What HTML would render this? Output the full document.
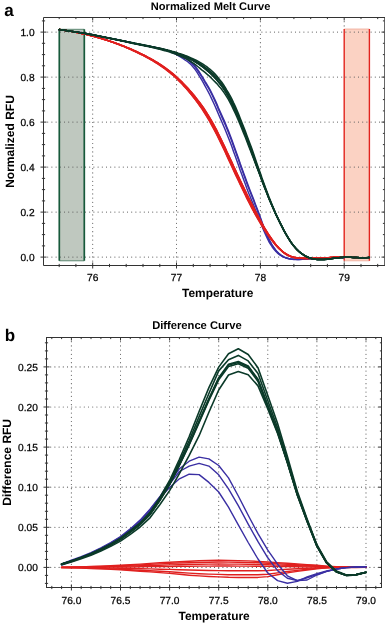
<!DOCTYPE html>
<html lang="en"><head><meta charset="utf-8"><title>Melt curves</title>
<style>html,body{margin:0;padding:0;background:#fff}body{width:387px;height:624px;overflow:hidden}svg{will-change:transform;transform:translateZ(0);text-rendering:geometricPrecision}</style></head>
<body>
<svg width="387" height="624" viewBox="0 0 387 624" style="display:block;font-family:'Liberation Sans',Arial,sans-serif">
<rect width="387" height="624" fill="#fff"/>
<g>
<rect x="59.3" y="29.3" width="25" height="231.5" fill="#bfc8bf" stroke="none"/>
<rect x="344.2" y="29" width="25.2" height="231.8" fill="#fbd2c3" stroke="none"/>
<path d="M92.7 17.5V265.5M176.5 17.5V265.5M260.4 17.5V265.5M344.2 17.5V28.4M344.2 261.6V265.5M43.5 257.1H384.5M43.5 212.1H384.5M43.5 167.1H384.5M43.5 122.1H384.5M43.5 77.1H384.5M43.5 32.1H384.5" stroke="#626262" stroke-width="1.2" stroke-linecap="round" stroke-dasharray="0.01 4.19" fill="none"/>
<path d="M59.3 29.3H84.3M59.3 260.8H84.3" stroke="#3d7358" stroke-width="0.8" fill="none"/>
<path d="M59.3 260.8V29.3M84.3 29.3V260.8" stroke="#175a3b" stroke-width="1.7" fill="none"/>
<path d="M344.2 29H369.4M344.2 260.8H369.4" stroke="#f0a898" stroke-width="0.8" fill="none"/>
<path d="M344.2 260.8V29M369.4 29V260.8" stroke="#e2251f" stroke-width="1.4" fill="none"/>
<polyline points="59.2,29.6 60.8,29.8 62.5,30.0 64.2,30.2 65.9,30.4 67.6,30.7 69.2,30.9 70.9,31.1 72.6,31.4 74.3,31.6 75.9,31.8 77.6,32.1 79.3,32.3 81.0,32.6 82.6,32.9 84.3,33.2 86.0,33.5 87.7,33.8 89.3,34.1 91.0,34.4 92.7,34.7 94.4,35.0 96.1,35.4 97.7,35.7 99.4,36.0 101.1,36.4 102.8,36.7 104.4,37.0 106.1,37.4 107.8,37.7 109.5,38.0 111.1,38.4 112.8,38.7 114.5,39.1 116.2,39.4 117.8,39.8 119.5,40.1 121.2,40.5 122.9,40.8 124.6,41.2 126.2,41.5 127.9,41.9 129.6,42.2 131.3,42.6 132.9,42.9 134.6,43.3 136.3,43.6 138.0,43.9 139.6,44.3 141.3,44.6 143.0,44.9 144.7,45.3 146.4,45.6 148.0,45.9 149.7,46.3 151.4,46.6 153.1,47.0 154.7,47.3 156.4,47.7 158.1,48.1 159.8,48.5 161.4,48.9 163.1,49.3 164.8,49.8 166.5,50.3 168.1,50.7 169.8,51.2 171.5,51.7 173.2,52.2 174.9,52.8 176.5,53.4 178.2,54.0 179.9,54.8 181.6,55.6 183.2,56.4 184.9,57.4 186.6,58.4 188.3,59.6 189.9,60.9 191.6,62.4 193.3,64.1 195.0,66.0 196.6,68.2 198.3,70.5 200.0,73.1 201.7,75.8 203.4,78.5 205.0,81.3 206.7,84.0 208.4,86.9 210.1,89.8 211.7,93.0 213.4,96.5 215.1,100.1 216.8,103.9 218.4,107.8 220.1,111.6 221.8,115.3 223.5,119.1 225.2,122.9 226.8,126.9 228.5,131.0 230.2,135.4 231.9,139.9 233.5,144.5 235.2,149.2 236.9,153.9 238.6,158.7 240.2,163.5 241.9,168.2 243.6,172.9 245.3,177.6 246.9,182.1 248.6,186.6 250.3,190.9 252.0,195.2 253.7,199.5 255.3,203.9 257.0,208.3 258.7,212.8 260.4,217.4 262.0,222.0 263.7,226.6 265.4,230.9 267.1,234.9 268.7,238.6 270.4,241.9 272.1,244.8 273.8,247.4 275.4,249.7 277.1,251.7 278.8,253.3 280.5,254.8 282.2,255.9 283.8,256.9 285.5,257.6 287.2,258.2 288.9,258.7 290.5,259.1 292.2,259.3 293.9,259.5 295.6,259.6 297.2,259.6 298.9,259.6 300.6,259.5 302.3,259.4 304.0,259.3 305.6,259.1 307.3,259.0 309.0,258.8 310.7,258.7 312.3,258.6 314.0,258.5 315.7,258.4 317.4,258.3 319.0,258.2 320.7,258.1 322.4,258.0 324.1,257.9 325.7,257.9 327.4,257.8 329.1,257.8 330.8,257.7 332.5,257.7 334.1,257.6 335.8,257.6 337.5,257.6 339.2,257.5 340.8,257.5 342.5,257.5 344.2,257.5" fill="none" stroke="#3a2fa3" stroke-width="1.45" stroke-linejoin="round" stroke-linecap="round" />
<polyline points="59.2,29.6 60.8,29.8 62.5,30.0 64.2,30.2 65.9,30.4 67.6,30.7 69.2,30.9 70.9,31.1 72.6,31.4 74.3,31.6 75.9,31.9 77.6,32.2 79.3,32.4 81.0,32.7 82.6,33.0 84.3,33.3 86.0,33.6 87.7,33.9 89.3,34.2 91.0,34.5 92.7,34.8 94.4,35.1 96.1,35.5 97.7,35.8 99.4,36.1 101.1,36.5 102.8,36.8 104.4,37.1 106.1,37.5 107.8,37.8 109.5,38.1 111.1,38.5 112.8,38.8 114.5,39.2 116.2,39.5 117.8,39.9 119.5,40.2 121.2,40.6 122.9,40.9 124.6,41.3 126.2,41.6 127.9,42.0 129.6,42.3 131.3,42.7 132.9,43.0 134.6,43.4 136.3,43.7 138.0,44.0 139.6,44.4 141.3,44.7 143.0,45.0 144.7,45.4 146.4,45.7 148.0,46.0 149.7,46.4 151.4,46.7 153.1,47.1 154.7,47.4 156.4,47.8 158.1,48.2 159.8,48.6 161.4,49.0 163.1,49.4 164.8,49.9 166.5,50.3 168.1,50.8 169.8,51.4 171.5,51.9 173.2,52.5 174.9,53.1 176.5,53.7 178.2,54.4 179.9,55.1 181.6,55.9 183.2,56.8 184.9,57.8 186.6,58.9 188.3,60.2 189.9,61.6 191.6,63.1 193.3,64.9 195.0,66.9 196.6,69.0 198.3,71.5 200.0,74.0 201.7,76.7 203.4,79.5 205.0,82.3 206.7,85.1 208.4,87.9 210.1,91.0 211.7,94.2 213.4,97.7 215.1,101.4 216.8,105.3 218.4,109.2 220.1,113.0 221.8,116.9 223.5,120.7 225.2,124.6 226.8,128.6 228.5,132.7 230.2,137.0 231.9,141.5 233.5,146.0 235.2,150.7 236.9,155.4 238.6,160.1 240.2,164.9 241.9,169.6 243.6,174.3 245.3,178.9 246.9,183.5 248.6,187.9 250.3,192.2 252.0,196.5 253.7,200.7 255.3,205.0 257.0,209.4 258.7,213.8 260.4,218.4 262.0,223.0 263.7,227.5 265.4,231.7 267.1,235.7 268.7,239.3 270.4,242.5 272.1,245.3 273.8,247.8 275.4,250.0 277.1,251.9 278.8,253.5 280.5,254.8 282.2,256.0 283.8,256.9 285.5,257.6 287.2,258.2 288.9,258.6 290.5,259.0 292.2,259.2 293.9,259.3 295.6,259.4 297.2,259.5 298.9,259.5 300.6,259.4 302.3,259.3 304.0,259.2 305.6,259.1 307.3,259.0 309.0,258.8 310.7,258.7 312.3,258.6 314.0,258.5 315.7,258.4 317.4,258.3 319.0,258.2 320.7,258.1 322.4,258.0 324.1,257.9 325.7,257.9 327.4,257.8 329.1,257.8 330.8,257.7 332.5,257.7 334.1,257.6 335.8,257.6 337.5,257.6 339.2,257.5 340.8,257.5 342.5,257.5 344.2,257.5" fill="none" stroke="#3a2fa3" stroke-width="1.45" stroke-linejoin="round" stroke-linecap="round" />
<polyline points="59.2,29.6 60.8,29.8 62.5,30.0 64.2,30.2 65.9,30.4 67.6,30.7 69.2,30.9 70.9,31.1 72.6,31.4 74.3,31.6 75.9,31.9 77.6,32.3 79.3,32.6 81.0,32.9 82.6,33.2 84.3,33.5 86.0,33.8 87.7,34.1 89.3,34.4 91.0,34.7 92.7,35.0 94.4,35.3 96.1,35.6 97.7,36.0 99.4,36.3 101.1,36.6 102.8,37.0 104.4,37.3 106.1,37.6 107.8,38.0 109.5,38.3 111.1,38.7 112.8,39.0 114.5,39.4 116.2,39.7 117.8,40.1 119.5,40.4 121.2,40.8 122.9,41.1 124.6,41.5 126.2,41.8 127.9,42.2 129.6,42.5 131.3,42.8 132.9,43.2 134.6,43.5 136.3,43.9 138.0,44.2 139.6,44.6 141.3,44.9 143.0,45.2 144.7,45.6 146.4,45.9 148.0,46.2 149.7,46.6 151.4,46.9 153.1,47.2 154.7,47.6 156.4,48.0 158.1,48.4 159.8,48.7 161.4,49.1 163.1,49.6 164.8,50.0 166.5,50.5 168.1,51.0 169.8,51.6 171.5,52.3 173.2,53.1 174.9,53.9 176.5,54.7 178.2,55.6 179.9,56.6 181.6,57.6 183.2,58.7 184.9,59.9 186.6,61.0 188.3,62.2 189.9,63.6 191.6,65.3 193.3,67.2 195.0,69.3 196.6,71.7 198.3,74.4 200.0,77.1 201.7,79.9 203.4,82.8 205.0,85.8 206.7,89.0 208.4,92.2 210.1,95.5 211.7,98.9 213.4,102.5 215.1,106.2 216.8,110.1 218.4,114.0 220.1,117.9 221.8,121.8 223.5,125.7 225.2,129.7 226.8,133.7 228.5,138.0 230.2,142.3 231.9,146.8 233.5,151.4 235.2,156.1 236.9,160.8 238.6,165.5 240.2,170.2 241.9,174.8 243.6,179.5 245.3,184.0 246.9,188.5 248.6,192.9 250.3,197.1 252.0,201.3 253.7,205.3 255.3,209.4 257.0,213.6 258.7,217.8 260.4,222.0 262.0,226.3 263.7,230.4 265.4,234.3 267.1,238.0 268.7,241.3 270.4,244.2 272.1,246.7 273.8,249.0 275.4,250.9 277.1,252.6 278.8,254.1 280.5,255.4 282.2,256.3 283.8,257.1 285.5,257.8 287.2,258.3 288.9,258.6 290.5,258.9 292.2,259.1 293.9,259.2 295.6,259.3 297.2,259.3 298.9,259.3 300.6,259.3 302.3,259.2 304.0,259.1 305.6,259.0 307.3,258.9 309.0,258.8 310.7,258.6 312.3,258.5 314.0,258.4 315.7,258.3 317.4,258.3 319.0,258.2 320.7,258.1 322.4,258.0 324.1,257.9 325.7,257.9 327.4,257.8 329.1,257.8 330.8,257.7 332.5,257.7 334.1,257.6 335.8,257.6 337.5,257.6 339.2,257.5 340.8,257.5 342.5,257.5 344.2,257.5" fill="none" stroke="#3a2fa3" stroke-width="1.45" stroke-linejoin="round" stroke-linecap="round" />
<polyline points="59.2,29.5 60.8,29.7 62.5,30.0 64.2,30.2 65.9,30.5 67.6,30.8 69.2,31.0 70.9,31.3 72.6,31.6 74.3,31.9 75.9,32.3 77.6,32.6 79.3,32.9 81.0,33.3 82.6,33.7 84.3,34.0 86.0,34.4 87.7,34.8 89.3,35.2 91.0,35.6 92.7,36.0 94.4,36.5 96.1,36.9 97.7,37.4 99.4,37.9 101.1,38.3 102.8,38.8 104.4,39.3 106.1,39.8 107.8,40.4 109.5,40.9 111.1,41.5 112.8,42.0 114.5,42.6 116.2,43.2 117.8,43.8 119.5,44.4 121.2,45.1 122.9,45.7 124.6,46.4 126.2,47.1 127.9,47.8 129.6,48.5 131.3,49.2 132.9,49.9 134.6,50.7 136.3,51.4 138.0,52.2 139.6,53.0 141.3,53.8 143.0,54.6 144.7,55.4 146.4,56.3 148.0,57.2 149.7,58.1 151.4,59.0 153.1,59.9 154.7,60.9 156.4,61.9 158.1,62.9 159.8,64.0 161.4,65.1 163.1,66.2 164.8,67.4 166.5,68.6 168.1,69.8 169.8,71.1 171.5,72.5 173.2,73.9 174.9,75.3 176.5,76.8 178.2,78.4 179.9,79.9 181.6,81.5 183.2,83.2 184.9,84.9 186.6,86.7 188.3,88.5 189.9,90.4 191.6,92.3 193.3,94.3 195.0,96.3 196.6,98.4 198.3,100.6 200.0,102.8 201.7,105.1 203.4,107.5 205.0,110.0 206.7,112.6 208.4,115.3 210.1,118.1 211.7,120.9 213.4,123.9 215.1,127.0 216.8,130.2 218.4,133.6 220.1,137.0 221.8,140.5 223.5,144.0 225.2,147.6 226.8,151.2 228.5,154.8 230.2,158.5 231.9,162.1 233.5,165.8 235.2,169.4 236.9,173.0 238.6,176.6 240.2,180.1 241.9,183.6 243.6,187.1 245.3,190.6 246.9,194.0 248.6,197.4 250.3,200.8 252.0,204.1 253.7,207.5 255.3,210.8 257.0,214.0 258.7,217.2 260.4,220.3 262.0,223.3 263.7,226.3 265.4,229.1 267.1,231.9 268.7,234.5 270.4,237.0 272.1,239.4 273.8,241.7 275.4,243.9 277.1,245.9 278.8,247.7 280.5,249.4 282.2,250.9 283.8,252.3 285.5,253.4 287.2,254.5 288.9,255.3 290.5,256.1 292.2,256.6 293.9,257.1 295.6,257.5 297.2,257.7 298.9,257.9 300.6,258.1 302.3,258.2 304.0,258.2 305.6,258.3 307.3,258.3 309.0,258.3 310.7,258.3 312.3,258.3 314.0,258.2 315.7,258.2 317.4,258.1 319.0,258.1 320.7,258.0 322.4,257.9 324.1,257.8 325.7,257.7 327.4,257.6 329.1,257.6 330.8,257.5 332.5,257.4 334.1,257.3 335.8,257.3 337.5,257.2 339.2,257.2 340.8,257.2 342.5,257.1 344.2,257.2 345.9,257.2 347.5,257.2 349.2,257.3 350.9,257.3 352.6,257.4 354.2,257.5 355.9,257.5 357.6,257.6 359.3,257.6 361.0,257.7 362.6,257.7 364.3,257.7 366.0,257.6 367.7,257.6 369.3,257.5" fill="none" stroke="#e0201f" stroke-width="1.4" stroke-linejoin="round" stroke-linecap="round" />
<polyline points="59.2,29.5 60.8,29.7 62.5,30.0 64.2,30.2 65.9,30.5 67.6,30.8 69.2,31.0 70.9,31.3 72.6,31.6 74.3,31.9 75.9,32.3 77.6,32.6 79.3,32.9 81.0,33.3 82.6,33.7 84.3,34.0 86.0,34.4 87.7,34.8 89.3,35.2 91.0,35.6 92.7,36.1 94.4,36.5 96.1,36.9 97.7,37.4 99.4,37.9 101.1,38.4 102.8,38.8 104.4,39.4 106.1,39.9 107.8,40.4 109.5,41.0 111.1,41.5 112.8,42.1 114.5,42.7 116.2,43.3 117.8,43.9 119.5,44.5 121.2,45.1 122.9,45.8 124.6,46.4 126.2,47.1 127.9,47.8 129.6,48.5 131.3,49.2 132.9,50.0 134.6,50.7 136.3,51.5 138.0,52.3 139.6,53.1 141.3,53.9 143.0,54.7 144.7,55.5 146.4,56.4 148.0,57.3 149.7,58.2 151.4,59.1 153.1,60.0 154.7,61.0 156.4,62.0 158.1,63.1 159.8,64.1 161.4,65.2 163.1,66.4 164.8,67.5 166.5,68.8 168.1,70.0 169.8,71.3 171.5,72.7 173.2,74.1 174.9,75.5 176.5,77.0 178.2,78.6 179.9,80.1 181.6,81.8 183.2,83.5 184.9,85.2 186.6,87.0 188.3,88.8 189.9,90.7 191.6,92.6 193.3,94.6 195.0,96.7 196.6,98.8 198.3,100.9 200.0,103.2 201.7,105.5 203.4,107.9 205.0,110.4 206.7,113.0 208.4,115.7 210.1,118.5 211.7,121.4 213.4,124.4 215.1,127.5 216.8,130.7 218.4,134.0 220.1,137.4 221.8,140.9 223.5,144.5 225.2,148.0 226.8,151.7 228.5,155.3 230.2,158.9 231.9,162.6 233.5,166.2 235.2,169.8 236.9,173.4 238.6,177.0 240.2,180.5 241.9,184.1 243.6,187.6 245.3,191.0 246.9,194.4 248.6,197.8 250.3,201.2 252.0,204.5 253.7,207.8 255.3,211.1 257.0,214.3 258.7,217.5 260.4,220.6 262.0,223.6 263.7,226.5 265.4,229.3 267.1,232.0 268.7,234.7 270.4,237.2 272.1,239.6 273.8,241.8 275.4,244.0 277.1,246.0 278.8,247.8 280.5,249.5 282.2,251.0 283.8,252.3 285.5,253.5 287.2,254.5 288.9,255.4 290.5,256.1 292.2,256.7 293.9,257.2 295.6,257.5 297.2,257.8 298.9,258.0 300.6,258.1 302.3,258.2 304.0,258.3 305.6,258.3 307.3,258.3 309.0,258.3 310.7,258.3 312.3,258.3 314.0,258.3 315.7,258.2 317.4,258.1 319.0,258.1 320.7,258.0 322.4,257.9 324.1,257.8 325.7,257.7 327.4,257.6 329.1,257.6 330.8,257.5 332.5,257.4 334.1,257.3 335.8,257.3 337.5,257.2 339.2,257.2 340.8,257.2 342.5,257.1 344.2,257.2 345.9,257.2 347.5,257.2 349.2,257.3 350.9,257.3 352.6,257.4 354.2,257.5 355.9,257.5 357.6,257.6 359.3,257.6 361.0,257.7 362.6,257.7 364.3,257.7 366.0,257.6 367.7,257.6 369.3,257.5" fill="none" stroke="#e0201f" stroke-width="1.4" stroke-linejoin="round" stroke-linecap="round" />
<polyline points="59.2,29.5 60.8,29.7 62.5,30.0 64.2,30.2 65.9,30.5 67.6,30.8 69.2,31.0 70.9,31.3 72.6,31.6 74.3,31.9 75.9,32.3 77.6,32.6 79.3,32.9 81.0,33.3 82.6,33.7 84.3,34.0 86.0,34.4 87.7,34.8 89.3,35.2 91.0,35.6 92.7,36.1 94.4,36.5 96.1,37.0 97.7,37.4 99.4,37.9 101.1,38.4 102.8,38.9 104.4,39.4 106.1,39.9 107.8,40.4 109.5,41.0 111.1,41.6 112.8,42.1 114.5,42.7 116.2,43.3 117.8,43.9 119.5,44.6 121.2,45.2 122.9,45.8 124.6,46.5 126.2,47.2 127.9,47.9 129.6,48.6 131.3,49.3 132.9,50.1 134.6,50.8 136.3,51.6 138.0,52.4 139.6,53.2 141.3,54.0 143.0,54.8 144.7,55.7 146.4,56.5 148.0,57.4 149.7,58.3 151.4,59.2 153.1,60.2 154.7,61.2 156.4,62.2 158.1,63.2 159.8,64.3 161.4,65.4 163.1,66.5 164.8,67.7 166.5,69.0 168.1,70.2 169.8,71.5 171.5,72.9 173.2,74.3 174.9,75.7 176.5,77.3 178.2,78.8 179.9,80.4 181.6,82.0 183.2,83.7 184.9,85.5 186.6,87.3 188.3,89.1 189.9,91.0 191.6,93.0 193.3,95.0 195.0,97.0 196.6,99.2 198.3,101.4 200.0,103.6 201.7,106.0 203.4,108.4 205.0,110.9 206.7,113.5 208.4,116.2 210.1,119.0 211.7,121.9 213.4,124.9 215.1,128.1 216.8,131.3 218.4,134.6 220.1,138.0 221.8,141.5 223.5,145.0 225.2,148.6 226.8,152.2 228.5,155.8 230.2,159.5 231.9,163.1 233.5,166.8 235.2,170.4 236.9,174.0 238.6,177.5 240.2,181.1 241.9,184.6 243.6,188.1 245.3,191.5 246.9,194.9 248.6,198.3 250.3,201.7 252.0,205.0 253.7,208.3 255.3,211.5 257.0,214.7 258.7,217.9 260.4,220.9 262.0,223.9 263.7,226.8 265.4,229.6 267.1,232.3 268.7,234.9 270.4,237.4 272.1,239.7 273.8,242.0 275.4,244.1 277.1,246.1 278.8,247.9 280.5,249.5 282.2,251.1 283.8,252.4 285.5,253.6 287.2,254.6 288.9,255.5 290.5,256.2 292.2,256.8 293.9,257.2 295.6,257.6 297.2,257.9 298.9,258.0 300.6,258.2 302.3,258.3 304.0,258.3 305.6,258.4 307.3,258.4 309.0,258.4 310.7,258.4 312.3,258.3 314.0,258.3 315.7,258.2 317.4,258.2 319.0,258.1 320.7,258.0 322.4,257.9 324.1,257.8 325.7,257.7 327.4,257.6 329.1,257.6 330.8,257.5 332.5,257.4 334.1,257.3 335.8,257.3 337.5,257.2 339.2,257.2 340.8,257.2 342.5,257.1 344.2,257.2 345.9,257.2 347.5,257.2 349.2,257.3 350.9,257.3 352.6,257.4 354.2,257.5 355.9,257.5 357.6,257.6 359.3,257.6 361.0,257.7 362.6,257.7 364.3,257.7 366.0,257.6 367.7,257.6 369.3,257.5" fill="none" stroke="#e0201f" stroke-width="1.4" stroke-linejoin="round" stroke-linecap="round" />
<polyline points="59.2,29.5 60.8,29.7 62.5,30.0 64.2,30.2 65.9,30.5 67.6,30.8 69.2,31.0 70.9,31.3 72.6,31.6 74.3,31.9 75.9,32.3 77.6,32.6 79.3,32.9 81.0,33.3 82.6,33.7 84.3,34.0 86.0,34.4 87.7,34.8 89.3,35.2 91.0,35.6 92.7,36.1 94.4,36.5 96.1,37.0 97.7,37.4 99.4,37.9 101.1,38.4 102.8,38.9 104.4,39.4 106.1,39.9 107.8,40.5 109.5,41.0 111.1,41.6 112.8,42.2 114.5,42.8 116.2,43.4 117.8,44.0 119.5,44.6 121.2,45.3 122.9,45.9 124.6,46.6 126.2,47.3 127.9,48.0 129.6,48.7 131.3,49.4 132.9,50.2 134.6,50.9 136.3,51.7 138.0,52.5 139.6,53.3 141.3,54.1 143.0,54.9 144.7,55.8 146.4,56.6 148.0,57.5 149.7,58.4 151.4,59.4 153.1,60.3 154.7,61.3 156.4,62.3 158.1,63.4 159.8,64.5 161.4,65.6 163.1,66.7 164.8,67.9 166.5,69.2 168.1,70.4 169.8,71.7 171.5,73.1 173.2,74.5 174.9,76.0 176.5,77.5 178.2,79.0 179.9,80.7 181.6,82.3 183.2,84.0 184.9,85.8 186.6,87.6 188.3,89.5 189.9,91.4 191.6,93.3 193.3,95.4 195.0,97.4 196.6,99.6 198.3,101.8 200.0,104.0 201.7,106.4 203.4,108.8 205.0,111.4 206.7,114.0 208.4,116.7 210.1,119.5 211.7,122.5 213.4,125.5 215.1,128.6 216.8,131.8 218.4,135.2 220.1,138.6 221.8,142.0 223.5,145.6 225.2,149.2 226.8,152.8 228.5,156.4 230.2,160.1 231.9,163.7 233.5,167.3 235.2,170.9 236.9,174.5 238.6,178.1 240.2,181.6 241.9,185.1 243.6,188.6 245.3,192.0 246.9,195.5 248.6,198.8 250.3,202.2 252.0,205.5 253.7,208.7 255.3,212.0 257.0,215.1 258.7,218.2 260.4,221.2 262.0,224.2 263.7,227.0 265.4,229.8 267.1,232.5 268.7,235.1 270.4,237.5 272.1,239.9 273.8,242.1 275.4,244.2 277.1,246.2 278.8,248.0 280.5,249.6 282.2,251.2 283.8,252.5 285.5,253.7 287.2,254.7 288.9,255.6 290.5,256.3 292.2,256.8 293.9,257.3 295.6,257.6 297.2,257.9 298.9,258.1 300.6,258.2 302.3,258.3 304.0,258.4 305.6,258.4 307.3,258.4 309.0,258.4 310.7,258.4 312.3,258.4 314.0,258.3 315.7,258.2 317.4,258.2 319.0,258.1 320.7,258.0 322.4,257.9 324.1,257.8 325.7,257.7 327.4,257.6 329.1,257.6 330.8,257.5 332.5,257.4 334.1,257.3 335.8,257.3 337.5,257.2 339.2,257.2 340.8,257.2 342.5,257.1 344.2,257.2 345.9,257.2 347.5,257.2 349.2,257.3 350.9,257.3 352.6,257.4 354.2,257.5 355.9,257.5 357.6,257.6 359.3,257.6 361.0,257.7 362.6,257.7 364.3,257.7 366.0,257.6 367.7,257.6 369.3,257.5" fill="none" stroke="#e0201f" stroke-width="1.4" stroke-linejoin="round" stroke-linecap="round" />
<polyline points="59.2,29.5 60.8,29.7 62.5,30.0 64.2,30.2 65.9,30.5 67.6,30.8 69.2,31.0 70.9,31.3 72.6,31.6 74.3,31.9 75.9,32.3 77.6,32.6 79.3,32.9 81.0,33.3 82.6,33.7 84.3,34.0 86.0,34.4 87.7,34.8 89.3,35.2 91.0,35.7 92.7,36.1 94.4,36.5 96.1,37.0 97.7,37.5 99.4,38.0 101.1,38.4 102.8,39.0 104.4,39.5 106.1,40.0 107.8,40.6 109.5,41.1 111.1,41.7 112.8,42.3 114.5,42.9 116.2,43.5 117.8,44.1 119.5,44.7 121.2,45.4 122.9,46.1 124.6,46.7 126.2,47.4 127.9,48.1 129.6,48.9 131.3,49.6 132.9,50.3 134.6,51.1 136.3,51.9 138.0,52.7 139.6,53.5 141.3,54.3 143.0,55.2 144.7,56.0 146.4,56.9 148.0,57.8 149.7,58.7 151.4,59.7 153.1,60.6 154.7,61.6 156.4,62.7 158.1,63.7 159.8,64.8 161.4,65.9 163.1,67.1 164.8,68.3 166.5,69.5 168.1,70.8 169.8,72.2 171.5,73.5 173.2,75.0 174.9,76.4 176.5,77.9 178.2,79.5 179.9,81.2 181.6,82.9 183.2,84.6 184.9,86.4 186.6,88.3 188.3,90.2 189.9,92.1 191.6,94.1 193.3,96.2 195.0,98.3 196.6,100.4 198.3,102.7 200.0,105.0 201.7,107.4 203.4,109.9 205.0,112.4 206.7,115.1 208.4,117.8 210.1,120.7 211.7,123.7 213.4,126.7 215.1,129.9 216.8,133.1 218.4,136.4 220.1,139.9 221.8,143.3 223.5,146.9 225.2,150.5 226.8,154.1 228.5,157.7 230.2,161.4 231.9,165.0 233.5,168.6 235.2,172.2 236.9,175.8 238.6,179.4 240.2,182.9 241.9,186.4 243.6,189.9 245.3,193.3 246.9,196.7 248.6,200.1 250.3,203.4 252.0,206.7 253.7,209.9 255.3,213.1 257.0,216.2 258.7,219.2 260.4,222.1 262.0,225.0 263.7,227.8 265.4,230.5 267.1,233.1 268.7,235.6 270.4,238.0 272.1,240.3 273.8,242.4 275.4,244.5 277.1,246.4 278.8,248.2 280.5,249.8 282.2,251.3 283.8,252.7 285.5,253.9 287.2,254.9 288.9,255.7 290.5,256.4 292.2,257.0 293.9,257.4 295.6,257.8 297.2,258.0 298.9,258.2 300.6,258.3 302.3,258.4 304.0,258.4 305.6,258.5 307.3,258.5 309.0,258.5 310.7,258.4 312.3,258.4 314.0,258.3 315.7,258.3 317.4,258.2 319.0,258.1 320.7,258.0 322.4,257.9 324.1,257.8 325.7,257.7 327.4,257.6 329.1,257.6 330.8,257.5 332.5,257.4 334.1,257.3 335.8,257.3 337.5,257.2 339.2,257.2 340.8,257.2 342.5,257.1 344.2,257.2 345.9,257.2 347.5,257.2 349.2,257.3 350.9,257.3 352.6,257.4 354.2,257.5 355.9,257.5 357.6,257.6 359.3,257.6 361.0,257.7 362.6,257.7 364.3,257.7 366.0,257.6 367.7,257.6 369.3,257.5" fill="none" stroke="#e0201f" stroke-width="1.4" stroke-linejoin="round" stroke-linecap="round" />
<polyline points="59.2,29.5 60.8,29.7 62.5,30.0 64.2,30.2 65.9,30.5 67.6,30.8 69.2,31.0 70.9,31.3 72.6,31.6 74.3,31.9 75.9,32.3 77.6,32.6 79.3,32.9 81.0,33.3 82.6,33.7 84.3,34.0 86.0,34.4 87.7,34.8 89.3,35.2 91.0,35.7 92.7,36.1 94.4,36.6 96.1,37.0 97.7,37.5 99.4,38.0 101.1,38.5 102.8,39.0 104.4,39.5 106.1,40.1 107.8,40.6 109.5,41.2 111.1,41.8 112.8,42.3 114.5,42.9 116.2,43.6 117.8,44.2 119.5,44.8 121.2,45.5 122.9,46.2 124.6,46.8 126.2,47.5 127.9,48.3 129.6,49.0 131.3,49.7 132.9,50.5 134.6,51.3 136.3,52.1 138.0,52.9 139.6,53.7 141.3,54.5 143.0,55.4 144.7,56.2 146.4,57.1 148.0,58.0 149.7,59.0 151.4,59.9 153.1,60.9 154.7,61.9 156.4,62.9 158.1,64.0 159.8,65.1 161.4,66.2 163.1,67.4 164.8,68.6 166.5,69.9 168.1,71.2 169.8,72.5 171.5,73.9 173.2,75.3 174.9,76.8 176.5,78.3 178.2,79.9 179.9,81.6 181.6,83.3 183.2,85.1 184.9,86.9 186.6,88.8 188.3,90.7 189.9,92.7 191.6,94.7 193.3,96.8 195.0,99.0 196.6,101.2 198.3,103.4 200.0,105.8 201.7,108.2 203.4,110.7 205.0,113.3 206.7,116.0 208.4,118.8 210.1,121.7 211.7,124.7 213.4,127.8 215.1,130.9 216.8,134.2 218.4,137.5 220.1,140.9 221.8,144.4 223.5,148.0 225.2,151.6 226.8,155.2 228.5,158.8 230.2,162.5 231.9,166.1 233.5,169.8 235.2,173.4 236.9,177.0 238.6,180.5 240.2,184.0 241.9,187.5 243.6,191.0 245.3,194.5 246.9,197.9 248.6,201.2 250.3,204.6 252.0,207.9 253.7,211.0 255.3,214.1 257.0,217.1 258.7,220.0 260.4,222.9 262.0,225.7 263.7,228.4 265.4,231.1 267.1,233.6 268.7,236.0 270.4,238.4 272.1,240.6 273.8,242.7 275.4,244.7 277.1,246.6 278.8,248.4 280.5,250.0 282.2,251.5 283.8,252.8 285.5,254.0 287.2,255.0 288.9,255.8 290.5,256.5 292.2,257.1 293.9,257.5 295.6,257.8 297.2,258.1 298.9,258.3 300.6,258.4 302.3,258.4 304.0,258.5 305.6,258.5 307.3,258.5 309.0,258.5 310.7,258.4 312.3,258.4 314.0,258.3 315.7,258.3 317.4,258.2 319.0,258.1 320.7,258.0 322.4,257.9 324.1,257.8 325.7,257.7 327.4,257.6 329.1,257.6 330.8,257.5 332.5,257.4 334.1,257.3 335.8,257.3 337.5,257.2 339.2,257.2 340.8,257.2 342.5,257.1 344.2,257.2 345.9,257.2 347.5,257.2 349.2,257.3 350.9,257.3 352.6,257.4 354.2,257.5 355.9,257.5 357.6,257.6 359.3,257.6 361.0,257.7 362.6,257.7 364.3,257.7 366.0,257.6 367.7,257.6 369.3,257.5" fill="none" stroke="#e0201f" stroke-width="1.4" stroke-linejoin="round" stroke-linecap="round" />
<polyline points="59.2,29.5 60.8,29.7 62.5,30.0 64.2,30.2 65.9,30.5 67.6,30.8 69.2,31.0 70.9,31.3 72.6,31.6 74.3,31.9 75.9,32.3 77.6,32.6 79.3,32.9 81.0,33.3 82.6,33.7 84.3,34.0 86.0,34.4 87.7,34.8 89.3,35.3 91.0,35.7 92.7,36.1 94.4,36.6 96.1,37.0 97.7,37.5 99.4,38.0 101.1,38.5 102.8,39.0 104.4,39.6 106.1,40.1 107.8,40.7 109.5,41.2 111.1,41.8 112.8,42.4 114.5,43.0 116.2,43.6 117.8,44.3 119.5,44.9 121.2,45.6 122.9,46.2 124.6,46.9 126.2,47.6 127.9,48.3 129.6,49.1 131.3,49.8 132.9,50.6 134.6,51.4 136.3,52.2 138.0,53.0 139.6,53.8 141.3,54.6 143.0,55.5 144.7,56.4 146.4,57.3 148.0,58.2 149.7,59.1 151.4,60.1 153.1,61.0 154.7,62.1 156.4,63.1 158.1,64.2 159.8,65.3 161.4,66.4 163.1,67.6 164.8,68.8 166.5,70.1 168.1,71.4 169.8,72.7 171.5,74.1 173.2,75.5 174.9,77.0 176.5,78.6 178.2,80.2 179.9,81.9 181.6,83.6 183.2,85.4 184.9,87.2 186.6,89.1 188.3,91.1 189.9,93.1 191.6,95.1 193.3,97.2 195.0,99.4 196.6,101.6 198.3,103.9 200.0,106.3 201.7,108.7 203.4,111.3 205.0,113.9 206.7,116.6 208.4,119.4 210.1,122.3 211.7,125.3 213.4,128.4 215.1,131.6 216.8,134.9 218.4,138.2 220.1,141.6 221.8,145.1 223.5,148.7 225.2,152.3 226.8,155.9 228.5,159.6 230.2,163.2 231.9,166.9 233.5,170.5 235.2,174.1 236.9,177.7 238.6,181.3 240.2,184.8 241.9,188.3 243.6,191.8 245.3,195.2 246.9,198.6 248.6,202.0 250.3,205.3 252.0,208.6 253.7,211.7 255.3,214.7 257.0,217.7 258.7,220.6 260.4,223.4 262.0,226.2 263.7,228.9 265.4,231.4 267.1,233.9 268.7,236.3 270.4,238.6 272.1,240.8 273.8,242.9 275.4,244.9 277.1,246.7 278.8,248.5 280.5,250.1 282.2,251.6 283.8,252.9 285.5,254.1 287.2,255.1 288.9,255.9 290.5,256.6 292.2,257.1 293.9,257.6 295.6,257.9 297.2,258.1 298.9,258.3 300.6,258.4 302.3,258.5 304.0,258.5 305.6,258.5 307.3,258.5 309.0,258.5 310.7,258.5 312.3,258.4 314.0,258.3 315.7,258.3 317.4,258.2 319.0,258.1 320.7,258.0 322.4,257.9 324.1,257.8 325.7,257.7 327.4,257.6 329.1,257.6 330.8,257.5 332.5,257.4 334.1,257.3 335.8,257.3 337.5,257.2 339.2,257.2 340.8,257.2 342.5,257.1 344.2,257.2 345.9,257.2 347.5,257.2 349.2,257.3 350.9,257.3 352.6,257.4 354.2,257.5 355.9,257.5 357.6,257.6 359.3,257.6 361.0,257.7 362.6,257.7 364.3,257.7 366.0,257.6 367.7,257.6 369.3,257.5" fill="none" stroke="#e0201f" stroke-width="1.4" stroke-linejoin="round" stroke-linecap="round" />
<polyline points="59.2,29.6 60.8,29.8 62.5,30.0 64.2,30.2 65.9,30.4 67.6,30.7 69.2,30.9 70.9,31.2 72.6,31.4 74.3,31.7 75.9,31.9 77.6,32.2 79.3,32.5 81.0,32.7 82.6,33.0 84.3,33.3 86.0,33.6 87.7,33.9 89.3,34.2 91.0,34.5 92.7,34.8 94.4,35.1 96.1,35.4 97.7,35.7 99.4,36.1 101.1,36.4 102.8,36.7 104.4,37.1 106.1,37.4 107.8,37.7 109.5,38.1 111.1,38.4 112.8,38.7 114.5,39.1 116.2,39.4 117.8,39.8 119.5,40.1 121.2,40.4 122.9,40.8 124.6,41.1 126.2,41.5 127.9,41.8 129.6,42.2 131.3,42.5 132.9,42.8 134.6,43.2 136.3,43.5 138.0,43.9 139.6,44.2 141.3,44.5 143.0,44.8 144.7,45.2 146.4,45.5 148.0,45.8 149.7,46.1 151.4,46.5 153.1,46.8 154.7,47.2 156.4,47.5 158.1,47.9 159.8,48.2 161.4,48.6 163.1,49.0 164.8,49.4 166.5,49.8 168.1,50.2 169.8,50.6 171.5,51.1 173.2,51.6 174.9,52.0 176.5,52.5 178.2,53.1 179.9,53.6 181.6,54.2 183.2,54.8 184.9,55.4 186.6,56.0 188.3,56.7 189.9,57.4 191.6,58.1 193.3,58.9 195.0,59.7 196.6,60.5 198.3,61.4 200.0,62.3 201.7,63.3 203.4,64.4 205.0,65.5 206.7,66.7 208.4,68.0 210.1,69.3 211.7,70.8 213.4,72.4 215.1,74.1 216.8,76.0 218.4,78.0 220.1,80.1 221.8,82.3 223.5,84.7 225.2,87.3 226.8,90.1 228.5,92.9 230.2,95.9 231.9,99.1 233.5,102.6 235.2,106.1 236.9,110.0 238.6,114.1 240.2,118.2 241.9,122.5 243.6,126.8 245.3,131.1 246.9,135.5 248.6,140.0 250.3,144.5 252.0,149.1 253.7,154.0 255.3,158.8 257.0,163.7 258.7,168.5 260.4,173.3 262.0,178.1 263.7,182.8 265.4,187.4 267.1,191.9 268.7,196.3 270.4,200.6 272.1,204.7 273.8,208.7 275.4,212.6 277.1,216.3 278.8,219.9 280.5,223.3 282.2,226.7 283.8,229.9 285.5,233.0 287.2,236.0 288.9,238.8 290.5,241.4 292.2,243.8 293.9,246.0 295.6,247.9 297.2,249.7 298.9,251.3 300.6,252.8 302.3,254.0 304.0,255.1 305.6,256.1 307.3,256.9 309.0,257.6 310.7,258.2 312.3,258.7 314.0,259.0 315.7,259.3 317.4,259.5 319.0,259.6 320.7,259.6 322.4,259.6 324.1,259.5 325.7,259.4 327.4,259.2 329.1,259.0 330.8,258.8 332.5,258.6 334.1,258.3 335.8,258.1 337.5,257.9 339.2,257.7 340.8,257.5 342.5,257.4 344.2,257.3 345.9,257.2 347.5,257.2 349.2,257.2 350.9,257.3 352.6,257.4 354.2,257.4 355.9,257.5 357.6,257.6 359.3,257.7 361.0,257.7 362.6,257.8 364.3,257.7 366.0,257.7 367.7,257.6 369.3,257.4" fill="none" stroke="#0b3a29" stroke-width="1.5" stroke-linejoin="round" stroke-linecap="round" />
<polyline points="59.2,29.6 60.8,29.8 62.5,30.0 64.2,30.2 65.9,30.4 67.6,30.7 69.2,30.9 70.9,31.2 72.6,31.4 74.3,31.7 75.9,31.9 77.6,32.2 79.3,32.5 81.0,32.7 82.6,33.0 84.3,33.3 86.0,33.6 87.7,33.9 89.3,34.2 91.0,34.5 92.7,34.8 94.4,35.1 96.1,35.5 97.7,35.8 99.4,36.1 101.1,36.4 102.8,36.8 104.4,37.1 106.1,37.4 107.8,37.8 109.5,38.1 111.1,38.4 112.8,38.8 114.5,39.1 116.2,39.5 117.8,39.8 119.5,40.2 121.2,40.5 122.9,40.9 124.6,41.2 126.2,41.6 127.9,41.9 129.6,42.3 131.3,42.6 132.9,42.9 134.6,43.3 136.3,43.6 138.0,44.0 139.6,44.3 141.3,44.6 143.0,45.0 144.7,45.3 146.4,45.6 148.0,46.0 149.7,46.3 151.4,46.6 153.1,47.0 154.7,47.3 156.4,47.7 158.1,48.1 159.8,48.4 161.4,48.8 163.1,49.2 164.8,49.6 166.5,50.0 168.1,50.5 169.8,50.9 171.5,51.4 173.2,51.9 174.9,52.4 176.5,52.9 178.2,53.5 179.9,54.0 181.6,54.6 183.2,55.3 184.9,55.9 186.6,56.6 188.3,57.3 189.9,58.1 191.6,58.9 193.3,59.7 195.0,60.6 196.6,61.6 198.3,62.5 200.0,63.6 201.7,64.7 203.4,65.8 205.0,67.1 206.7,68.4 208.4,69.7 210.1,71.1 211.7,72.6 213.4,74.1 215.1,75.7 216.8,77.4 218.4,79.2 220.1,81.4 221.8,83.8 223.5,86.3 225.2,89.1 226.8,92.0 228.5,94.8 230.2,97.9 231.9,101.2 233.5,104.6 235.2,108.3 236.9,112.2 238.6,116.2 240.2,120.3 241.9,124.5 243.6,128.8 245.3,133.1 246.9,137.4 248.6,141.9 250.3,146.4 252.0,150.9 253.7,155.7 255.3,160.4 257.0,165.2 258.7,169.9 260.4,174.6 262.0,179.3 263.7,183.8 265.4,188.3 267.1,192.7 268.7,197.0 270.4,201.2 272.1,205.3 273.8,209.2 275.4,213.0 277.1,216.6 278.8,220.2 280.5,223.6 282.2,226.9 283.8,230.1 285.5,233.2 287.2,236.2 288.9,238.9 290.5,241.5 292.2,243.9 293.9,246.1 295.6,248.0 297.2,249.8 298.9,251.4 300.6,252.8 302.3,254.1 304.0,255.2 305.6,256.1 307.3,257.0 309.0,257.6 310.7,258.2 312.3,258.7 314.0,259.0 315.7,259.3 317.4,259.5 319.0,259.6 320.7,259.6 322.4,259.6 324.1,259.5 325.7,259.4 327.4,259.2 329.1,259.0 330.8,258.8 332.5,258.5 334.1,258.3 335.8,258.1 337.5,257.9 339.2,257.7 340.8,257.5 342.5,257.4 344.2,257.3 345.9,257.2 347.5,257.2 349.2,257.2 350.9,257.3 352.6,257.4 354.2,257.4 355.9,257.5 357.6,257.6 359.3,257.7 361.0,257.7 362.6,257.8 364.3,257.7 366.0,257.7 367.7,257.6 369.3,257.4" fill="none" stroke="#0b3a29" stroke-width="1.5" stroke-linejoin="round" stroke-linecap="round" />
<polyline points="59.2,29.6 60.8,29.8 62.5,30.0 64.2,30.2 65.9,30.4 67.6,30.7 69.2,30.9 70.9,31.2 72.6,31.4 74.3,31.7 75.9,31.9 77.6,32.2 79.3,32.5 81.0,32.7 82.6,33.0 84.3,33.3 86.0,33.6 87.7,33.9 89.3,34.2 91.0,34.5 92.7,34.8 94.4,35.2 96.1,35.5 97.7,35.8 99.4,36.1 101.1,36.5 102.8,36.8 104.4,37.1 106.1,37.5 107.8,37.8 109.5,38.1 111.1,38.5 112.8,38.8 114.5,39.2 116.2,39.5 117.8,39.9 119.5,40.2 121.2,40.6 122.9,40.9 124.6,41.3 126.2,41.6 127.9,42.0 129.6,42.3 131.3,42.7 132.9,43.0 134.6,43.4 136.3,43.7 138.0,44.1 139.6,44.4 141.3,44.8 143.0,45.1 144.7,45.4 146.4,45.8 148.0,46.1 149.7,46.4 151.4,46.8 153.1,47.1 154.7,47.5 156.4,47.8 158.1,48.2 159.8,48.6 161.4,49.0 163.1,49.4 164.8,49.8 166.5,50.2 168.1,50.7 169.8,51.2 171.5,51.6 173.2,52.2 174.9,52.7 176.5,53.2 178.2,53.8 179.9,54.4 181.6,55.0 183.2,55.7 184.9,56.4 186.6,57.1 188.3,57.9 189.9,58.7 191.6,59.6 193.3,60.5 195.0,61.5 196.6,62.5 198.3,63.5 200.0,64.7 201.7,65.9 203.4,67.1 205.0,68.4 206.7,69.7 208.4,71.2 210.1,72.7 211.7,74.3 213.4,75.9 215.1,77.6 216.8,79.5 218.4,81.4 220.1,83.5 221.8,85.7 223.5,88.1 225.2,90.7 226.8,93.5 228.5,96.4 230.2,99.6 231.9,102.9 233.5,106.5 235.2,110.2 236.9,114.0 238.6,118.0 240.2,122.0 241.9,126.1 243.6,130.4 245.3,134.7 246.9,139.1 248.6,143.6 250.3,148.1 252.0,152.7 253.7,157.3 255.3,161.9 257.0,166.6 258.7,171.2 260.4,175.7 262.0,180.3 263.7,184.7 265.4,189.1 267.1,193.5 268.7,197.7 270.4,201.8 272.1,205.7 273.8,209.6 275.4,213.3 277.1,216.9 278.8,220.4 280.5,223.8 282.2,227.1 283.8,230.3 285.5,233.4 287.2,236.3 288.9,239.1 290.5,241.6 292.2,244.0 293.9,246.2 295.6,248.1 297.2,249.9 298.9,251.5 300.6,252.9 302.3,254.1 304.0,255.2 305.6,256.2 307.3,257.0 309.0,257.7 310.7,258.2 312.3,258.7 314.0,259.0 315.7,259.3 317.4,259.5 319.0,259.6 320.7,259.6 322.4,259.6 324.1,259.5 325.7,259.3 327.4,259.2 329.1,259.0 330.8,258.8 332.5,258.5 334.1,258.3 335.8,258.1 337.5,257.9 339.2,257.7 340.8,257.5 342.5,257.4 344.2,257.3 345.9,257.2 347.5,257.2 349.2,257.2 350.9,257.3 352.6,257.4 354.2,257.4 355.9,257.5 357.6,257.6 359.3,257.7 361.0,257.7 362.6,257.8 364.3,257.7 366.0,257.7 367.7,257.6 369.3,257.4" fill="none" stroke="#0b3a29" stroke-width="1.5" stroke-linejoin="round" stroke-linecap="round" />
<polyline points="59.2,29.6 60.8,29.8 62.5,30.0 64.2,30.2 65.9,30.4 67.6,30.7 69.2,30.9 70.9,31.2 72.6,31.4 74.3,31.7 75.9,31.9 77.6,32.2 79.3,32.5 81.0,32.7 82.6,33.0 84.3,33.3 86.0,33.6 87.7,33.9 89.3,34.2 91.0,34.5 92.7,34.8 94.4,35.2 96.1,35.5 97.7,35.8 99.4,36.1 101.1,36.5 102.8,36.8 104.4,37.1 106.1,37.5 107.8,37.8 109.5,38.2 111.1,38.5 112.8,38.8 114.5,39.2 116.2,39.5 117.8,39.9 119.5,40.2 121.2,40.6 122.9,40.9 124.6,41.3 126.2,41.6 127.9,42.0 129.6,42.3 131.3,42.7 132.9,43.0 134.6,43.4 136.3,43.7 138.0,44.1 139.6,44.4 141.3,44.8 143.0,45.1 144.7,45.4 146.4,45.8 148.0,46.1 149.7,46.5 151.4,46.8 153.1,47.2 154.7,47.5 156.4,47.9 158.1,48.2 159.8,48.6 161.4,49.0 163.1,49.4 164.8,49.8 166.5,50.3 168.1,50.7 169.8,51.2 171.5,51.7 173.2,52.2 174.9,52.7 176.5,53.3 178.2,53.9 179.9,54.5 181.6,55.1 183.2,55.8 184.9,56.5 186.6,57.2 188.3,58.0 189.9,58.8 191.6,59.7 193.3,60.6 195.0,61.6 196.6,62.6 198.3,63.7 200.0,64.8 201.7,66.0 203.4,67.3 205.0,68.6 206.7,69.9 208.4,71.4 210.1,72.9 211.7,74.5 213.4,76.1 215.1,77.9 216.8,79.7 218.4,81.7 220.1,83.8 221.8,86.0 223.5,88.4 225.2,91.0 226.8,93.7 228.5,96.7 230.2,99.8 231.9,103.2 233.5,106.7 235.2,110.4 236.9,114.3 238.6,118.2 240.2,122.3 241.9,126.4 243.6,130.6 245.3,134.9 246.9,139.4 248.6,143.8 250.3,148.4 252.0,153.0 253.7,157.6 255.3,162.1 257.0,166.7 258.7,171.3 260.4,175.9 262.0,180.4 263.7,184.9 265.4,189.2 267.1,193.6 268.7,197.8 270.4,201.8 272.1,205.8 273.8,209.6 275.4,213.4 277.1,217.0 278.8,220.5 280.5,223.9 282.2,227.2 283.8,230.4 285.5,233.4 287.2,236.3 288.9,239.1 290.5,241.7 292.2,244.0 293.9,246.2 295.6,248.2 297.2,249.9 298.9,251.5 300.6,252.9 302.3,254.1 304.0,255.2 305.6,256.2 307.3,257.0 309.0,257.7 310.7,258.2 312.3,258.7 314.0,259.0 315.7,259.3 317.4,259.5 319.0,259.6 320.7,259.6 322.4,259.5 324.1,259.5 325.7,259.3 327.4,259.2 329.1,259.0 330.8,258.8 332.5,258.5 334.1,258.3 335.8,258.1 337.5,257.9 339.2,257.7 340.8,257.5 342.5,257.4 344.2,257.3 345.9,257.2 347.5,257.2 349.2,257.2 350.9,257.3 352.6,257.4 354.2,257.4 355.9,257.5 357.6,257.6 359.3,257.7 361.0,257.7 362.6,257.8 364.3,257.7 366.0,257.7 367.7,257.6 369.3,257.4" fill="none" stroke="#0b3a29" stroke-width="1.5" stroke-linejoin="round" stroke-linecap="round" />
<polyline points="59.2,29.6 60.8,29.8 62.5,30.0 64.2,30.2 65.9,30.4 67.6,30.7 69.2,30.9 70.9,31.2 72.6,31.4 74.3,31.7 75.9,31.9 77.6,32.2 79.3,32.5 81.0,32.7 82.6,33.0 84.3,33.3 86.0,33.6 87.7,33.9 89.3,34.2 91.0,34.5 92.7,34.8 94.4,35.2 96.1,35.5 97.7,35.8 99.4,36.1 101.1,36.5 102.8,36.8 104.4,37.1 106.1,37.5 107.8,37.8 109.5,38.2 111.1,38.5 112.8,38.9 114.5,39.2 116.2,39.6 117.8,39.9 119.5,40.3 121.2,40.6 122.9,41.0 124.6,41.3 126.2,41.7 127.9,42.0 129.6,42.4 131.3,42.7 132.9,43.1 134.6,43.4 136.3,43.8 138.0,44.1 139.6,44.4 141.3,44.8 143.0,45.1 144.7,45.5 146.4,45.8 148.0,46.1 149.7,46.5 151.4,46.8 153.1,47.2 154.7,47.5 156.4,47.9 158.1,48.3 159.8,48.7 161.4,49.1 163.1,49.5 164.8,49.9 166.5,50.3 168.1,50.8 169.8,51.2 171.5,51.7 173.2,52.3 174.9,52.8 176.5,53.4 178.2,53.9 179.9,54.5 181.6,55.2 183.2,55.9 184.9,56.6 186.6,57.3 188.3,58.1 189.9,59.0 191.6,59.9 193.3,60.8 195.0,61.8 196.6,62.8 198.3,63.9 200.0,65.1 201.7,66.3 203.4,67.5 205.0,68.9 206.7,70.3 208.4,71.7 210.1,73.2 211.7,74.8 213.4,76.5 215.1,78.3 216.8,80.1 218.4,82.1 220.1,84.2 221.8,86.4 223.5,88.8 225.2,91.4 226.8,94.2 228.5,97.1 230.2,100.3 231.9,103.7 233.5,107.2 235.2,110.9 236.9,114.7 238.6,118.7 240.2,122.7 241.9,126.8 243.6,131.1 245.3,135.4 246.9,139.8 248.6,144.3 250.3,148.8 252.0,153.4 253.7,157.9 255.3,162.5 257.0,167.1 258.7,171.6 260.4,176.1 262.0,180.6 263.7,185.1 265.4,189.4 267.1,193.7 268.7,197.9 270.4,202.0 272.1,205.9 273.8,209.7 275.4,213.4 277.1,217.0 278.8,220.5 280.5,223.9 282.2,227.2 283.8,230.4 285.5,233.5 287.2,236.4 288.9,239.1 290.5,241.7 292.2,244.1 293.9,246.2 295.6,248.2 297.2,249.9 298.9,251.5 300.6,252.9 302.3,254.2 304.0,255.2 305.6,256.2 307.3,257.0 309.0,257.7 310.7,258.2 312.3,258.7 314.0,259.0 315.7,259.3 317.4,259.5 319.0,259.6 320.7,259.6 322.4,259.5 324.1,259.5 325.7,259.3 327.4,259.2 329.1,259.0 330.8,258.8 332.5,258.5 334.1,258.3 335.8,258.1 337.5,257.9 339.2,257.7 340.8,257.5 342.5,257.4 344.2,257.3 345.9,257.2 347.5,257.2 349.2,257.2 350.9,257.3 352.6,257.4 354.2,257.4 355.9,257.5 357.6,257.6 359.3,257.7 361.0,257.7 362.6,257.8 364.3,257.7 366.0,257.7 367.7,257.6 369.3,257.4" fill="none" stroke="#0b3a29" stroke-width="1.5" stroke-linejoin="round" stroke-linecap="round" />
<polyline points="59.2,29.6 60.8,29.8 62.5,30.0 64.2,30.2 65.9,30.4 67.6,30.7 69.2,30.9 70.9,31.2 72.6,31.4 74.3,31.7 75.9,32.0 77.6,32.3 79.3,32.6 81.0,32.9 82.6,33.1 84.3,33.4 86.0,33.7 87.7,34.0 89.3,34.4 91.0,34.7 92.7,35.0 94.4,35.3 96.1,35.6 97.7,36.0 99.4,36.3 101.1,36.6 102.8,37.0 104.4,37.3 106.1,37.7 107.8,38.0 109.5,38.4 111.1,38.7 112.8,39.1 114.5,39.4 116.2,39.8 117.8,40.1 119.5,40.5 121.2,40.9 122.9,41.2 124.6,41.6 126.2,41.9 127.9,42.3 129.6,42.7 131.3,43.0 132.9,43.4 134.6,43.7 136.3,44.1 138.0,44.5 139.6,44.9 141.3,45.2 143.0,45.5 144.7,45.9 146.4,46.2 148.0,46.6 149.7,46.9 151.4,47.3 153.1,47.7 154.7,48.1 156.4,48.5 158.1,48.9 159.8,49.3 161.4,49.7 163.1,50.2 164.8,50.7 166.5,51.1 168.1,51.6 169.8,52.1 171.5,52.7 173.2,53.3 174.9,53.9 176.5,54.5 178.2,55.2 179.9,55.9 181.6,56.7 183.2,57.4 184.9,58.2 186.6,59.1 188.3,60.0 189.9,61.0 191.6,62.1 193.3,63.2 195.0,64.4 196.6,65.7 198.3,67.0 200.0,68.4 201.7,69.8 203.4,71.1 205.0,72.4 206.7,73.9 208.4,75.3 210.1,76.9 211.7,78.5 213.4,80.2 215.1,81.9 216.8,83.6 218.4,85.4 220.1,87.4 221.8,89.5 223.5,91.9 225.2,94.3 226.8,96.9 228.5,99.7 230.2,102.9 231.9,106.2 233.5,109.7 235.2,113.3 236.9,117.0 238.6,120.9 240.2,124.8 241.9,128.9 243.6,133.1 245.3,137.3 246.9,141.5 248.6,145.9 250.3,150.3 252.0,154.8 253.7,159.0 255.3,163.3 257.0,167.7 258.7,172.1 260.4,176.6 262.0,181.1 263.7,185.5 265.4,189.8 267.1,194.0 268.7,198.1 270.4,202.0 272.1,205.9 273.8,209.7 275.4,213.4 277.1,217.0 278.8,220.4 280.5,223.8 282.2,227.1 283.8,230.3 285.5,233.3 287.2,236.2 288.9,239.0 290.5,241.6 292.2,243.9 293.9,246.1 295.6,248.0 297.2,249.7 298.9,251.3 300.6,252.7 302.3,254.0 304.0,255.1 305.6,256.0 307.3,256.8 309.0,257.5 310.7,258.1 312.3,258.6 314.0,258.9 315.7,259.2 317.4,259.4 319.0,259.5 320.7,259.5 322.4,259.5 324.1,259.4 325.7,259.3 327.4,259.1 329.1,259.0 330.8,258.7 332.5,258.5 334.1,258.3 335.8,258.1 337.5,257.9 339.2,257.7 340.8,257.5 342.5,257.4 344.2,257.3 345.9,257.2 347.5,257.2 349.2,257.2 350.9,257.3 352.6,257.4 354.2,257.4 355.9,257.5 357.6,257.6 359.3,257.7 361.0,257.7 362.6,257.8 364.3,257.7 366.0,257.7 367.7,257.6 369.3,257.4" fill="none" stroke="#0b3a29" stroke-width="1.5" stroke-linejoin="round" stroke-linecap="round" />
<path d="M384.5 17.5V265.5" stroke="#666" stroke-width="1" fill="none"/>
<path d="M385.0 17.5H43.5V265.5H385.0" stroke="#333" stroke-width="1" fill="none"/>
<path d="M59.2 263.9V267.1M59.2 17.5v1.6M75.9 263.9V267.1M75.9 17.5v1.6M92.7 262.5V268.5M92.7 17.5v3M109.5 263.9V267.1M109.5 17.5v1.6M126.2 263.9V267.1M126.2 17.5v1.6M143.0 263.9V267.1M143.0 17.5v1.6M159.8 263.9V267.1M159.8 17.5v1.6M176.5 262.5V268.5M176.5 17.5v3M193.3 263.9V267.1M193.3 17.5v1.6M210.1 263.9V267.1M210.1 17.5v1.6M226.8 263.9V267.1M226.8 17.5v1.6M243.6 263.9V267.1M243.6 17.5v1.6M260.4 262.5V268.5M260.4 17.5v3M277.1 263.9V267.1M277.1 17.5v1.6M293.9 263.9V267.1M293.9 17.5v1.6M310.7 263.9V267.1M310.7 17.5v1.6M327.4 263.9V267.1M327.4 17.5v1.6M344.2 262.5V268.5M344.2 17.5v3M361.0 263.9V267.1M361.0 17.5v1.6M377.7 263.9V267.1M377.7 17.5v1.6M40.5 257.1H46.5M384.5 257.1h-3M41.9 245.9H45.1M384.5 245.9h-1.6M41.9 234.6H45.1M384.5 234.6h-1.6M41.9 223.4H45.1M384.5 223.4h-1.6M40.5 212.1H46.5M384.5 212.1h-3M41.9 200.9H45.1M384.5 200.9h-1.6M41.9 189.6H45.1M384.5 189.6h-1.6M41.9 178.4H45.1M384.5 178.4h-1.6M40.5 167.1H46.5M384.5 167.1h-3M41.9 155.9H45.1M384.5 155.9h-1.6M41.9 144.6H45.1M384.5 144.6h-1.6M41.9 133.4H45.1M384.5 133.4h-1.6M40.5 122.1H46.5M384.5 122.1h-3M41.9 110.9H45.1M384.5 110.9h-1.6M41.9 99.6H45.1M384.5 99.6h-1.6M41.9 88.4H45.1M384.5 88.4h-1.6M40.5 77.1H46.5M384.5 77.1h-3M41.9 65.8H45.1M384.5 65.8h-1.6M41.9 54.6H45.1M384.5 54.6h-1.6M41.9 43.3H45.1M384.5 43.3h-1.6M40.5 32.1H46.5M384.5 32.1h-3M41.9 20.9H45.1M384.5 20.9h-1.6" stroke="#333" stroke-width="1" fill="none"/>
<text x="92.7" y="281.4" font-size="10.2" text-anchor="middle" fill="#000" stroke="#000" stroke-width="0.25">76</text>
<text x="176.5" y="281.4" font-size="10.2" text-anchor="middle" fill="#000" stroke="#000" stroke-width="0.25">77</text>
<text x="260.4" y="281.4" font-size="10.2" text-anchor="middle" fill="#000" stroke="#000" stroke-width="0.25">78</text>
<text x="344.2" y="281.4" font-size="10.2" text-anchor="middle" fill="#000" stroke="#000" stroke-width="0.25">79</text>
<text x="34.6" y="260.7" font-size="10.2" text-anchor="end" fill="#000" stroke="#000" stroke-width="0.25">0.0</text>
<text x="34.6" y="215.7" font-size="10.2" text-anchor="end" fill="#000" stroke="#000" stroke-width="0.25">0.2</text>
<text x="34.6" y="170.7" font-size="10.2" text-anchor="end" fill="#000" stroke="#000" stroke-width="0.25">0.4</text>
<text x="34.6" y="125.7" font-size="10.2" text-anchor="end" fill="#000" stroke="#000" stroke-width="0.25">0.6</text>
<text x="34.6" y="80.7" font-size="10.2" text-anchor="end" fill="#000" stroke="#000" stroke-width="0.25">0.8</text>
<text x="34.6" y="35.7" font-size="10.2" text-anchor="end" fill="#000" stroke="#000" stroke-width="0.25">1.0</text>
<text x="210.6" y="9.7" font-size="11.1" font-weight="bold" text-anchor="middle" fill="#000">Normalized Melt Curve</text>
<text x="217.7" y="297.3" font-size="11.9" font-weight="bold" text-anchor="middle" fill="#000">Temperature</text>
<text transform="translate(13.7,141.5) rotate(-90)" font-size="12" font-weight="bold" text-anchor="middle" fill="#000">Normalized RFU</text>
<text x="4.3" y="15.8" font-size="17" font-weight="bold" fill="#000">a</text>
</g>
<g>
<path d="M71.4 337.5V587.5M120.5 337.5V587.5M169.6 337.5V587.5M218.7 337.5V587.5M267.8 337.5V587.5M316.9 337.5V587.5M366.0 337.5V587.5M46.5 567.4H381.5M46.5 527.3H381.5M46.5 487.2H381.5M46.5 447.1H381.5M46.5 407.0H381.5M46.5 366.9H381.5" stroke="#626262" stroke-width="1.2" stroke-linecap="round" stroke-dasharray="0.01 4.19" fill="none"/>
<polyline points="61.6,567.4 71.4,567.2 81.2,566.9 91.0,566.5 100.9,566.1 110.7,565.7 120.5,565.3 130.3,564.8 140.1,564.1 150.0,563.4 159.8,562.8 169.6,562.2 179.4,561.7 189.2,561.2 199.1,560.8 208.9,560.5 218.7,560.3 228.5,560.4 238.3,560.6 248.2,560.9 258.0,561.4 267.8,562.0 277.6,562.6 287.4,563.2 297.3,563.9 307.1,564.6 316.9,565.3 326.7,566.1 336.5,566.8 346.4,567.2 356.2,567.2 366.0,567.0" fill="none" stroke="#e0201f" stroke-width="1.45" stroke-linejoin="round" stroke-linecap="round" />
<polyline points="61.6,567.4 71.4,567.2 81.2,567.0 91.0,566.7 100.9,566.4 110.7,566.1 120.5,565.8 130.3,565.4 140.1,564.9 150.0,564.4 159.8,563.9 169.6,563.4 179.4,563.0 189.2,562.7 199.1,562.4 208.9,562.2 218.7,562.0 228.5,562.1 238.3,562.2 248.2,562.4 258.0,562.8 267.8,563.3 277.6,563.7 287.4,564.2 297.3,564.7 307.1,565.2 316.9,565.8 326.7,566.4 336.5,567.0 346.4,567.2 356.2,567.2 366.0,567.1" fill="none" stroke="#e0201f" stroke-width="1.45" stroke-linejoin="round" stroke-linecap="round" />
<polyline points="61.6,567.4 71.4,567.3 81.2,567.1 91.0,567.0 100.9,566.8 110.7,566.6 120.5,566.4 130.3,566.1 140.1,565.8 150.0,565.5 159.8,565.2 169.6,564.9 179.4,564.7 189.2,564.4 199.1,564.3 208.9,564.1 218.7,564.0 228.5,564.1 238.3,564.1 248.2,564.3 258.0,564.5 267.8,564.8 277.6,565.1 287.4,565.4 297.3,565.7 307.1,566.0 316.9,566.4 326.7,566.8 336.5,567.1 346.4,567.3 356.2,567.3 366.0,567.2" fill="none" stroke="#e0201f" stroke-width="1.45" stroke-linejoin="round" stroke-linecap="round" />
<polyline points="61.6,567.4 71.4,567.4 81.2,567.3 91.0,567.2 100.9,567.2 110.7,567.1 120.5,567.0 130.3,566.9 140.1,566.8 150.0,566.6 159.8,566.5 169.6,566.4 179.4,566.3 189.2,566.2 199.1,566.1 208.9,566.1 218.7,566.0 228.5,566.0 238.3,566.1 248.2,566.1 258.0,566.2 267.8,566.4 277.6,566.5 287.4,566.6 297.3,566.7 307.1,566.9 316.9,567.0 326.7,567.2 336.5,567.3 346.4,567.4 356.2,567.4 366.0,567.3" fill="none" stroke="#e0201f" stroke-width="1.45" stroke-linejoin="round" stroke-linecap="round" />
<polyline points="61.6,567.4 71.4,567.5 81.2,567.6 91.0,567.8 100.9,567.9 110.7,568.1 120.5,568.2 130.3,568.4 140.1,568.7 150.0,568.9 159.8,569.2 169.6,569.4 179.4,569.7 189.2,570.0 199.1,570.3 208.9,570.5 218.7,570.6 228.5,570.7 238.3,570.8 248.2,570.8 258.0,570.8 267.8,570.5 277.6,569.9 287.4,569.3 297.3,568.7 307.1,568.3 316.9,567.9 326.7,567.6 336.5,567.4 346.4,567.3 356.2,567.3 366.0,567.3" fill="none" stroke="#e0201f" stroke-width="1.45" stroke-linejoin="round" stroke-linecap="round" />
<polyline points="61.6,567.4 71.4,567.6 81.2,567.9 91.0,568.2 100.9,568.5 110.7,568.9 120.5,569.2 130.3,569.7 140.1,570.2 150.0,570.7 159.8,571.3 169.6,571.8 179.4,572.5 189.2,573.1 199.1,573.7 208.9,574.1 218.7,574.4 228.5,574.7 238.3,574.8 248.2,574.8 258.0,574.8 267.8,574.2 277.6,572.9 287.4,571.5 297.3,570.4 307.1,569.3 316.9,568.4 326.7,567.8 336.5,567.4 346.4,567.2 356.2,567.1 366.0,567.1" fill="none" stroke="#e0201f" stroke-width="1.45" stroke-linejoin="round" stroke-linecap="round" />
<polyline points="61.6,567.4 71.4,567.7 81.2,568.0 91.0,568.5 100.9,568.9 110.7,569.4 120.5,569.9 130.3,570.5 140.1,571.2 150.0,571.9 159.8,572.6 169.6,573.4 179.4,574.3 189.2,575.2 199.1,575.9 208.9,576.5 218.7,576.9 228.5,577.3 238.3,577.4 248.2,577.4 258.0,577.4 267.8,576.6 277.6,574.8 287.4,572.9 297.3,571.4 307.1,570.0 316.9,568.8 326.7,567.9 336.5,567.4 346.4,567.2 356.2,567.1 366.0,567.0" fill="none" stroke="#e0201f" stroke-width="1.45" stroke-linejoin="round" stroke-linecap="round" />
<polyline points="61.6,563.8 71.4,560.2 81.2,556.6 91.0,552.6 100.9,547.8 110.7,542.5 120.5,536.5 130.3,528.9 140.1,520.1 150.0,509.3 159.8,496.8 169.6,481.6 179.4,468.8 189.2,461.2 199.1,457.1 208.9,458.9 218.7,465.5 228.5,477.9 238.3,496.0 248.2,515.3 258.0,533.7 267.8,550.2 277.6,564.2 287.4,575.8 297.3,580.6 307.1,580.0 316.9,575.0 326.7,571.4 336.5,569.0 346.4,567.6 356.2,567.0 366.0,566.8" fill="none" stroke="#3a2fa3" stroke-width="1.4" stroke-linejoin="round" stroke-linecap="round" />
<polyline points="61.6,564.4 71.4,560.8 81.2,557.2 91.0,553.2 100.9,548.4 110.7,543.2 120.5,537.2 130.3,529.5 140.1,520.7 150.0,509.9 159.8,497.5 169.6,484.0 179.4,471.5 189.2,466.1 199.1,463.4 208.9,466.1 218.7,474.8 228.5,488.8 238.3,505.6 248.2,524.1 258.0,541.7 267.8,557.8 277.6,570.6 287.4,578.2 297.3,580.5 307.1,577.8 316.9,574.5 326.7,571.4 336.5,569.0 346.4,567.6 356.2,567.0 366.0,566.8" fill="none" stroke="#3a2fa3" stroke-width="1.4" stroke-linejoin="round" stroke-linecap="round" />
<polyline points="61.6,565.1 71.4,561.5 81.2,557.9 91.0,553.8 100.9,549.0 110.7,543.8 120.5,537.8 130.3,530.2 140.1,521.4 150.0,510.5 159.8,498.1 169.6,487.5 179.4,478.8 189.2,474.2 199.1,474.6 208.9,482.4 218.7,492.0 228.5,507.2 238.3,524.9 248.2,542.5 258.0,559.0 267.8,573.0 277.6,580.6 287.4,583.2 297.3,581.4 307.1,577.0 316.9,573.7 326.7,571.0 336.5,569.0 346.4,567.6 356.2,567.0 366.0,566.8" fill="none" stroke="#3a2fa3" stroke-width="1.4" stroke-linejoin="round" stroke-linecap="round" />
<polyline points="61.6,564.1 71.4,561.0 81.2,557.4 91.0,553.6 100.9,549.0 110.7,544.0 120.5,538.2 130.3,530.7 140.1,522.8 150.0,512.3 159.8,497.7 169.6,480.5 179.4,459.3 189.2,436.6 199.1,411.5 208.9,387.6 218.7,367.1 228.5,353.7 238.3,348.7 248.2,354.5 258.0,367.7 267.8,395.5 277.6,423.6 287.4,456.5 297.3,491.2 307.1,519.0 316.9,545.1 326.7,562.8 336.5,572.0 346.4,575.6 356.2,575.0 366.0,572.4" fill="none" stroke="#0b3a29" stroke-width="1.6" stroke-linejoin="round" stroke-linecap="round" />
<polyline points="61.6,564.1 71.4,561.1 81.2,557.6 91.0,553.9 100.9,549.4 110.7,544.5 120.5,538.7 130.3,531.4 140.1,523.6 150.0,513.4 159.8,499.0 169.6,482.5 179.4,462.1 189.2,440.5 199.1,416.6 208.9,393.5 218.7,370.9 228.5,359.7 238.3,355.4 248.2,360.9 258.0,373.5 267.8,400.8 277.6,427.7 287.4,459.4 297.3,493.0 307.1,520.2 316.9,545.6 326.7,562.9 336.5,571.9 346.4,575.4 356.2,574.8 366.0,572.3" fill="none" stroke="#0b3a29" stroke-width="1.6" stroke-linejoin="round" stroke-linecap="round" />
<polyline points="61.6,564.2 71.4,561.2 81.2,557.7 91.0,554.1 100.9,549.7 110.7,544.8 120.5,539.2 130.3,532.0 140.1,524.3 150.0,514.2 159.8,500.1 169.6,484.1 179.4,464.5 189.2,443.8 199.1,421.0 208.9,398.6 218.7,377.7 228.5,364.3 238.3,361.5 248.2,365.9 258.0,379.3 267.8,405.3 277.6,431.3 287.4,462.0 297.3,494.6 307.1,521.1 316.9,546.1 326.7,563.0 336.5,571.8 346.4,575.3 356.2,574.6 366.0,572.2" fill="none" stroke="#0b3a29" stroke-width="1.6" stroke-linejoin="round" stroke-linecap="round" />
<polyline points="61.6,564.2 71.4,561.2 81.2,557.8 91.0,554.1 100.9,549.7 110.7,544.9 120.5,539.3 130.3,532.0 140.1,524.4 150.0,514.3 159.8,500.3 169.6,484.3 179.4,464.8 189.2,444.2 199.1,421.6 208.9,399.3 218.7,378.5 228.5,365.1 238.3,362.4 248.2,366.7 258.0,380.1 267.8,405.9 277.6,431.8 287.4,462.3 297.3,494.8 307.1,521.3 316.9,546.1 326.7,563.0 336.5,571.8 346.4,575.3 356.2,574.6 366.0,572.2" fill="none" stroke="#0b3a29" stroke-width="1.6" stroke-linejoin="round" stroke-linecap="round" />
<polyline points="61.6,564.2 71.4,561.2 81.2,557.8 91.0,554.2 100.9,549.8 110.7,545.0 120.5,539.4 130.3,532.2 140.1,524.6 150.0,514.6 159.8,500.5 169.6,484.7 179.4,465.4 189.2,445.0 199.1,422.6 208.9,400.4 218.7,379.8 228.5,366.6 238.3,363.8 248.2,368.2 258.0,381.4 267.8,407.0 277.6,432.6 287.4,462.9 297.3,495.2 307.1,521.5 316.9,546.2 326.7,563.0 336.5,571.8 346.4,575.2 356.2,574.6 366.0,572.2" fill="none" stroke="#0b3a29" stroke-width="1.6" stroke-linejoin="round" stroke-linecap="round" />
<polyline points="61.6,564.8 71.4,562.0 81.2,558.7 91.0,555.2 100.9,551.0 110.7,546.4 120.5,541.1 130.3,534.3 140.1,527.0 150.0,517.8 159.8,504.7 169.6,490.6 179.4,473.7 189.2,455.4 199.1,435.7 208.9,412.3 218.7,390.0 228.5,375.0 238.3,371.5 248.2,374.7 258.0,385.9 267.8,408.9 277.6,433.5 287.4,462.3 297.3,494.0 307.1,520.1 316.9,544.7 326.7,561.9 336.5,571.1 346.4,575.0 356.2,574.5 366.0,572.4" fill="none" stroke="#0b3a29" stroke-width="1.6" stroke-linejoin="round" stroke-linecap="round" />
<rect x="46.5" y="337.5" width="335.0" height="250.0" fill="none" stroke="#333" stroke-width="1"/>
<path d="M51.8 585.9V589.1M51.8 337.5v1.6M61.6 585.9V589.1M61.6 337.5v1.6M71.4 584.5V590.5M71.4 337.5v3M81.2 585.9V589.1M81.2 337.5v1.6M91.0 585.9V589.1M91.0 337.5v1.6M100.9 585.9V589.1M100.9 337.5v1.6M110.7 585.9V589.1M110.7 337.5v1.6M120.5 584.5V590.5M120.5 337.5v3M130.3 585.9V589.1M130.3 337.5v1.6M140.1 585.9V589.1M140.1 337.5v1.6M150.0 585.9V589.1M150.0 337.5v1.6M159.8 585.9V589.1M159.8 337.5v1.6M169.6 584.5V590.5M169.6 337.5v3M179.4 585.9V589.1M179.4 337.5v1.6M189.2 585.9V589.1M189.2 337.5v1.6M199.1 585.9V589.1M199.1 337.5v1.6M208.9 585.9V589.1M208.9 337.5v1.6M218.7 584.5V590.5M218.7 337.5v3M228.5 585.9V589.1M228.5 337.5v1.6M238.3 585.9V589.1M238.3 337.5v1.6M248.2 585.9V589.1M248.2 337.5v1.6M258.0 585.9V589.1M258.0 337.5v1.6M267.8 584.5V590.5M267.8 337.5v3M277.6 585.9V589.1M277.6 337.5v1.6M287.4 585.9V589.1M287.4 337.5v1.6M297.3 585.9V589.1M297.3 337.5v1.6M307.1 585.9V589.1M307.1 337.5v1.6M316.9 584.5V590.5M316.9 337.5v3M326.7 585.9V589.1M326.7 337.5v1.6M336.5 585.9V589.1M336.5 337.5v1.6M346.4 585.9V589.1M346.4 337.5v1.6M356.2 585.9V589.1M356.2 337.5v1.6M366.0 584.5V590.5M366.0 337.5v3M375.8 585.9V589.1M375.8 337.5v1.6M44.9 583.4H48.1M381.5 583.4h-1.6M44.9 575.4H48.1M381.5 575.4h-1.6M43.5 567.4H49.5M381.5 567.4h-3M44.9 559.4H48.1M381.5 559.4h-1.6M44.9 551.4H48.1M381.5 551.4h-1.6M44.9 543.3H48.1M381.5 543.3h-1.6M44.9 535.3H48.1M381.5 535.3h-1.6M43.5 527.3H49.5M381.5 527.3h-3M44.9 519.3H48.1M381.5 519.3h-1.6M44.9 511.3H48.1M381.5 511.3h-1.6M44.9 503.2H48.1M381.5 503.2h-1.6M44.9 495.2H48.1M381.5 495.2h-1.6M43.5 487.2H49.5M381.5 487.2h-3M44.9 479.2H48.1M381.5 479.2h-1.6M44.9 471.2H48.1M381.5 471.2h-1.6M44.9 463.1H48.1M381.5 463.1h-1.6M44.9 455.1H48.1M381.5 455.1h-1.6M43.5 447.1H49.5M381.5 447.1h-3M44.9 439.1H48.1M381.5 439.1h-1.6M44.9 431.1H48.1M381.5 431.1h-1.6M44.9 423.0H48.1M381.5 423.0h-1.6M44.9 415.0H48.1M381.5 415.0h-1.6M43.5 407.0H49.5M381.5 407.0h-3M44.9 399.0H48.1M381.5 399.0h-1.6M44.9 391.0H48.1M381.5 391.0h-1.6M44.9 382.9H48.1M381.5 382.9h-1.6M44.9 374.9H48.1M381.5 374.9h-1.6M43.5 366.9H49.5M381.5 366.9h-3M44.9 358.9H48.1M381.5 358.9h-1.6M44.9 350.9H48.1M381.5 350.9h-1.6M44.9 342.8H48.1M381.5 342.8h-1.6" stroke="#333" stroke-width="1" fill="none"/>
<text x="71.4" y="604" font-size="10.2" text-anchor="middle" fill="#000" stroke="#000" stroke-width="0.25">76.0</text>
<text x="120.5" y="604" font-size="10.2" text-anchor="middle" fill="#000" stroke="#000" stroke-width="0.25">76.5</text>
<text x="169.6" y="604" font-size="10.2" text-anchor="middle" fill="#000" stroke="#000" stroke-width="0.25">77.0</text>
<text x="218.7" y="604" font-size="10.2" text-anchor="middle" fill="#000" stroke="#000" stroke-width="0.25">77.5</text>
<text x="267.8" y="604" font-size="10.2" text-anchor="middle" fill="#000" stroke="#000" stroke-width="0.25">78.0</text>
<text x="316.9" y="604" font-size="10.2" text-anchor="middle" fill="#000" stroke="#000" stroke-width="0.25">78.5</text>
<text x="366.0" y="604" font-size="10.2" text-anchor="middle" fill="#000" stroke="#000" stroke-width="0.25">79.0</text>
<text x="37.8" y="571.0" font-size="10.2" text-anchor="end" fill="#000" stroke="#000" stroke-width="0.25">0.00</text>
<text x="37.8" y="530.9" font-size="10.2" text-anchor="end" fill="#000" stroke="#000" stroke-width="0.25">0.05</text>
<text x="37.8" y="490.8" font-size="10.2" text-anchor="end" fill="#000" stroke="#000" stroke-width="0.25">0.10</text>
<text x="37.8" y="450.7" font-size="10.2" text-anchor="end" fill="#000" stroke="#000" stroke-width="0.25">0.15</text>
<text x="37.8" y="410.6" font-size="10.2" text-anchor="end" fill="#000" stroke="#000" stroke-width="0.25">0.20</text>
<text x="37.8" y="370.5" font-size="10.2" text-anchor="end" fill="#000" stroke="#000" stroke-width="0.25">0.25</text>
<text x="196.9" y="329.2" font-size="11.2" font-weight="bold" text-anchor="middle" fill="#000">Difference Curve</text>
<text x="214.1" y="619.8" font-size="11.9" font-weight="bold" text-anchor="middle" fill="#000">Temperature</text>
<text transform="translate(10.8,462.3) rotate(-90)" font-size="12" font-weight="bold" text-anchor="middle" fill="#000">Difference RFU</text>
<text x="4.8" y="341" font-size="17" font-weight="bold" fill="#000">b</text>
</g>
</svg>
</body></html>
